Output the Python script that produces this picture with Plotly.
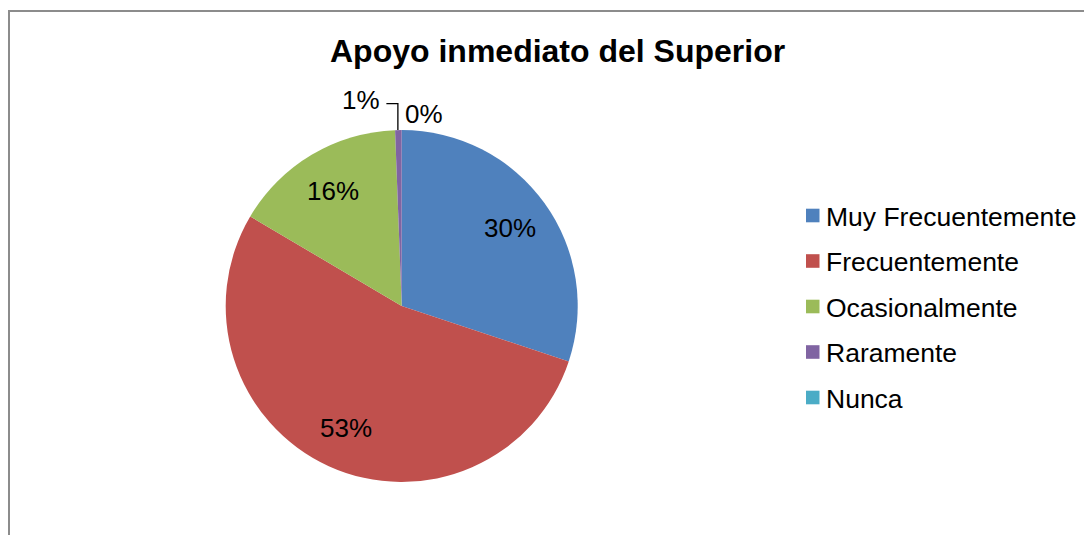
import math
import plotly.graph_objects as go

# ---- data ----
categories = ["Muy Frecuentemente", "Frecuentemente", "Ocasionalmente", "Raramente", "Nunca"]
values = [30.1, 53.4, 15.9, 0.6, 0.0]
colors = ["#4F81BD", "#C0504D", "#9BBB59", "#8064A2", "#4BACC6"]
title_text = "Apoyo inmediato del Superior"

W, H = 1092, 535
OFF = 8  # page body margin offset
CX, CY, R = 401.7, 306.0, 176.0  # pie centre / radius in screen pixels (layout)
FONT = "Arial, Liberation Sans, sans-serif"


def px(x):
    return (x - OFF) / W


def py(y):
    return 1 - (y - OFF) / H


fig = go.Figure()
fig.add_trace(go.Pie(
    labels=categories,
    values=values,
    sort=False,
    direction="clockwise",
    rotation=0,
    marker=dict(colors=colors, line=dict(width=0)),
    textinfo="none",
    showlegend=False,
    domain=dict(x=[px(CX - R), px(CX + R)], y=[py(CY + R), py(CY - R)]),
))

annotations = []
shapes = []
LBL = 26

total = sum(values)
cum = 0.0
for i, (cat, v) in enumerate(zip(categories, values)):
    start = cum / total * 360
    cum += v
    end = cum / total * 360
    mid = math.radians((start + end) / 2)
    pct = f"{round(v / total * 100)}%"
    if v / total >= 0.05:
        rr = 0.76 * R
        x = CX + rr * math.sin(mid)
        y = CY - rr * math.cos(mid)
        annotations.append(dict(x=px(x), y=py(y), xref="paper", yref="paper",
                                text=pct, showarrow=False,
                                xanchor="center", yanchor="middle",
                                font=dict(family=FONT, size=LBL, color="#000000")))
    else:
        # small slices: labels outside at the top
        ex = CX + R * math.sin(mid)
        ey = CY - R * math.cos(mid)
        if v > 0:
            lx, ly = ex - 37, ey - 30
            annotations.append(dict(x=px(lx), y=py(ly), xref="paper", yref="paper",
                                    text=pct, showarrow=False,
                                    xanchor="center", yanchor="middle",
                                    font=dict(family=FONT, size=LBL, color="#000000")))
            shapes.append(dict(type="path", xref="paper", yref="paper",
                               path=f"M {px(lx + 25)} {py(ey - 26.5)} L {px(ex - 0.5)} {py(ey - 26.5)} L {px(ex - 0.5)} {py(ey)}",
                               line=dict(color="#000000", width=1.3)))
        else:
            lx, ly = ex + 22, ey - 16
            annotations.append(dict(x=px(lx), y=py(ly), xref="paper", yref="paper",
                                    text=pct, showarrow=False,
                                    xanchor="center", yanchor="middle",
                                    font=dict(family=FONT, size=LBL, color="#000000")))

# custom legend
for i, (cat, col) in enumerate(zip(categories, colors)):
    yc = 215.5 + i * 45.5
    shapes.append(dict(type="rect", xref="paper", yref="paper",
                       x0=px(806), x1=px(819.5), y0=py(yc + 6.8), y1=py(yc - 6.8),
                       fillcolor=col, line=dict(width=0)))
    annotations.append(dict(x=px(824), y=py(yc + 1), xref="paper", yref="paper",
                            text=cat, showarrow=False,
                            xanchor="left", yanchor="middle",
                            font=dict(family=FONT, size=26.5, color="#000000")))

# title
annotations.append(dict(x=px(557), y=py(51), xref="paper", yref="paper",
                        text=f"<b>{title_text}</b>", showarrow=False,
                        xanchor="center", yanchor="middle",
                        font=dict(family=FONT, size=32, color="#000000")))

# chart border
shapes.append(dict(type="rect", xref="paper", yref="paper",
                   x0=px(9), x1=px(W + 40), y0=py(11), y1=py(H + 40),
                   line=dict(color="#8C8C8C", width=2), fillcolor="rgba(0,0,0,0)"))

fig.update_layout(
    width=W, height=H,
    margin=dict(l=0, r=0, t=0, b=0),
    paper_bgcolor="white",
    plot_bgcolor="white",
    showlegend=False,
    annotations=annotations,
    shapes=shapes,
    font=dict(family=FONT),
)

fig.write_html("out.html")
